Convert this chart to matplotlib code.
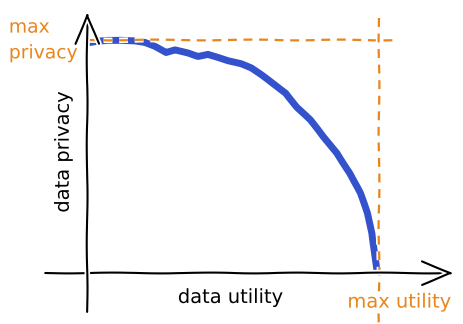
import matplotlib
matplotlib.use("Agg")
import matplotlib.pyplot as plt
import numpy as np

# data: utility (0..1) vs privacy (0..1)
utility = [0.0, 0.034, 0.069, 0.113, 0.162, 0.196, 0.230, 0.268, 0.299, 0.344,
           0.378, 0.412, 0.447, 0.481, 0.526, 0.560, 0.595, 0.643, 0.680, 0.718,
           0.763, 0.808, 0.856, 0.900, 0.935, 0.959, 0.976, 0.986, 0.993]
privacy = [0.988, 0.996, 1.0, 1.0, 0.996, 0.988, 0.971, 0.945, 0.957, 0.945,
           0.931, 0.940, 0.926, 0.911, 0.897, 0.879, 0.850, 0.807, 0.773, 0.712,
           0.657, 0.584, 0.515, 0.429, 0.343, 0.258, 0.172, 0.086, 0.013]
max_utility = 1.0
max_privacy = 1.0
xlabel = "data utility"
ylabel = "data privacy"
max_u_label = "max utility"
max_p_label = "max\nprivacy"

orange = "#E8861C"
blue = "#3352CC"

with plt.xkcd(scale=0.4, length=100, randomness=2):
    plt.rcParams['font.family'] = ['DejaVu Sans']
    fig = plt.figure(figsize=(4.64, 3.24), dpi=100)
    ax = fig.add_axes([0, 0, 1, 1])
    ax.set_xlim(-0.3024, 1.2921)
    ax.set_ylim(-0.2189, 1.1717)
    ax.axis('off')

    # dashed guide lines
    ax.plot([0, 1.055], [max_privacy, max_privacy], color=orange, lw=1.6,
            linestyle=(0, (4, 3)), zorder=3)
    ax.plot([max_utility, max_utility], [1.094, -0.22], color=orange, lw=1.6,
            linestyle=(0, (4, 3)), zorder=3)

    # axes arrows
    arrow = '->, head_length=0.55, head_width=0.22'
    ax.annotate('', xy=(1.257, 0), xytext=(-0.147, 0),
                arrowprops=dict(arrowstyle=arrow, lw=1.5, color='black',
                                mutation_scale=38, shrinkA=0, shrinkB=0))
    ax.annotate('', xy=(-0.003, 1.120), xytext=(-0.003, -0.167),
                arrowprops=dict(arrowstyle=arrow, lw=1.5, color='black',
                                mutation_scale=38, shrinkA=0, shrinkB=0))

    # curve
    ax.plot(utility, privacy, color=blue, lw=5, solid_capstyle='round',
            solid_joinstyle='round', zorder=2)

    # texts
    ax.text(0.49, -0.105, xlabel, ha='center', va='center', fontsize=14)
    ax.text(-0.085, 0.52, ylabel, ha='center', va='center', fontsize=14,
            rotation=90)
    ax.text(1.07, -0.125, max_u_label, ha='center', va='center', fontsize=14,
            color=orange)
    ax.text(-0.272, 1.0, max_p_label, ha='left', va='center', fontsize=13.5,
            color=orange, linespacing=1.45)

    fig.savefig("out.png", dpi=100)
